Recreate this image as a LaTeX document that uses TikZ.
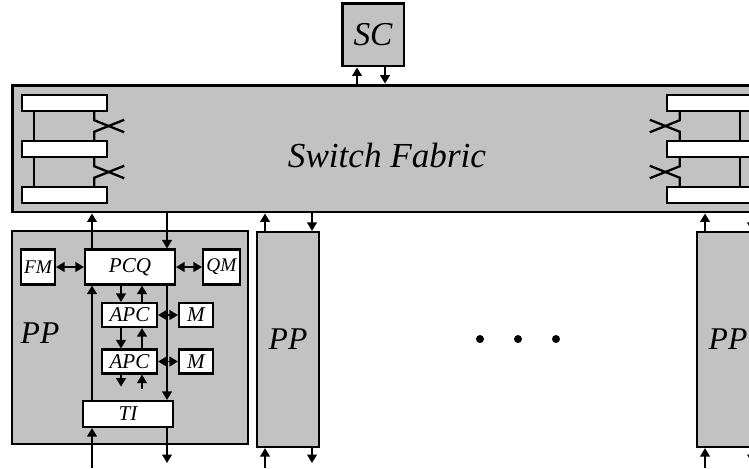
\documentclass[tikz,border=0pt]{standalone}
\usepackage{fontspec}
\setmainfont{Liberation Serif}
\usepackage{tikz}
\usetikzlibrary{calc,positioning,arrows.meta}
\tikzset{
    fabric box/.style={
        draw,line width=1.7pt,
        fill=black!24
    },
    unit box/.style={
        draw,line width=1.3pt,
        fill=black!24,inner sep=0pt,
        font=\itshape\fontsize{18}{20}\selectfont
    },
    buffer bar/.style={
        draw,line width=1.4pt,
        fill=white,
        minimum width=1.7cm,minimum height=.32cm
    },
    block/.style={
        draw,line width=1.2pt,
        fill=white,inner sep=0pt,
        minimum height=.7cm,
        font=\itshape\fontsize{12}{14}\selectfont
    },
    bar link/.style={line width=1.3pt},
    wire/.style={line width=.8pt},
    >={Triangle}
}
\begin{document}
\begin{tikzpicture}[x=0.02cm,y=-0.02cm]
\useasboundingbox (0,0) rectangle (749,468);
\node[fabric box,minimum width=15cm,minimum height=2.54cm] (fabric) at (387,148.5) {};
\node[font=\itshape\fontsize{20}{24}\selectfont] (fabric_name) at (387,155) {Switch Fabric};
\node[fabric box,minimum width=1.24cm,minimum height=1.26cm,inner sep=0pt,font=\itshape\fontsize{19}{22}\selectfont] (sc) at (373,34.5) {SC};
\foreach \s/\x in {l/64.5,r/709.5}
    \foreach \i/\y in {1/103,2/149,3/195}
        \node[buffer bar] (bar_\s\i) at (\x,\y) {};
\foreach \i/\j in {1/2,2/3} {
    \draw[bar link] ([xshift=.26cm]bar_l\i.south west) -- ([xshift=.26cm]bar_l\j.north west);
    \draw[bar link] ([xshift=-.28cm]bar_l\i.south east) -- ++(0,8) -- ++(30,12);
    \draw[bar link] ([xshift=-.28cm]bar_l\j.north east) -- ++(0,-8) -- ++(30,-12);
    \draw[bar link] ([xshift=-.26cm]bar_r\i.south east) -- ([xshift=-.26cm]bar_r\j.north east);
    \draw[bar link] ([xshift=.28cm]bar_r\i.south west) -- ++(0,8) -- ++(-30,12);
    \draw[bar link] ([xshift=.28cm]bar_r\j.north west) -- ++(0,-8) -- ++(-30,-12);
}
\coordinate (sc_up) at (357,0);
\coordinate (sc_dn) at (385,0);
\draw[wire,->] (sc_up |- fabric.north) -- (sc_up |- sc.south);
\draw[wire,->] (sc_dn |- sc.south) -- (sc_dn |- fabric.north);
\node[unit box,minimum width=4.72cm,minimum height=4.26cm] (pp_1) at (130,337.5) {};
\node[font=\itshape\fontsize{18}{20}\selectfont] (pp_1_name) at (40,333) {PP};
\node[block,minimum width=.68cm,font=\itshape\fontsize{11}{13}\selectfont] (fm) at (38,267) {FM};
\node[block,minimum width=1.8cm] (pcq) at (130,267) {PCQ};
\node[block,minimum width=.74cm,font=\itshape\fontsize{11}{13}\selectfont] (qm) at (221.5,267) {QM};
\draw[wire,<->] (fm) -- (pcq);
\draw[wire,<->] (pcq) -- (qm);
\foreach \i/\y in {1/315,2/361.5} {
    \node[block,minimum width=1.1cm,minimum height=.48cm,font=\itshape\fontsize{12}{14}\selectfont] (apc_\i) at (129.5,\y) {APC};
    \node[block,minimum width=.68cm,minimum height=.48cm] (m_\i) at (196,\y) {M};
    \draw[wire,<->] (apc_\i) -- (m_\i);
}
\node[block,minimum width=1.8cm,minimum height=.52cm] (ti) at (128,414) {TI};
\coordinate (bot) at (0,468);
\coordinate (bot_tip) at (0,463);
\coordinate (col_up) at (92,0);
\coordinate (col_dn) at (167,0);
\coordinate (col_a) at (121,0);
\coordinate (col_b) at (142,0);
\foreach \c/\a/\b in {col_up/pcq.north/fabric.south,col_up/ti.north/pcq.south,col_up/bot/ti.south,
        col_dn/fabric.south/pcq.north,col_dn/pcq.south/ti.north,col_dn/ti.south/bot_tip,
        col_a/pcq.south/apc_1.north,col_b/apc_1.north/pcq.south,
        col_a/apc_1.south/apc_2.north,col_b/apc_2.north/apc_1.south}
    \draw[wire,->] (\c |- \a) -- (\c |- \b);
\draw[wire,->] (col_a |- apc_2.south) -- ++(0,12);
\draw[wire,<-] (col_b |- apc_2.south) -- ++(0,14);
\foreach \i/\x in {2/288,3/728}
    \node[unit box,minimum width=1.24cm,minimum height=4.3cm] (pp_\i) at (\x,339.5) {PP};
\foreach \p/\u/\d in {pp_2/265/312,pp_3/705/752} {
    \coordinate (\p_up) at (\u,0);
    \coordinate (\p_dn) at (\d,0);
    \draw[wire,->] (\p_up |- \p.north) -- (\p_up |- fabric.south);
    \draw[wire,->] (\p_dn |- fabric.south) -- (\p_dn |- \p.north);
    \draw[wire,->] (\p_up |- bot) -- (\p_up |- \p.south);
    \draw[wire,->] (\p_dn |- \p.south) -- (\p_dn |- bot_tip);
}
\foreach \x in {480,518,556}
    \fill (\x,339) circle[radius=.08cm];
\end{tikzpicture}
\end{document}
